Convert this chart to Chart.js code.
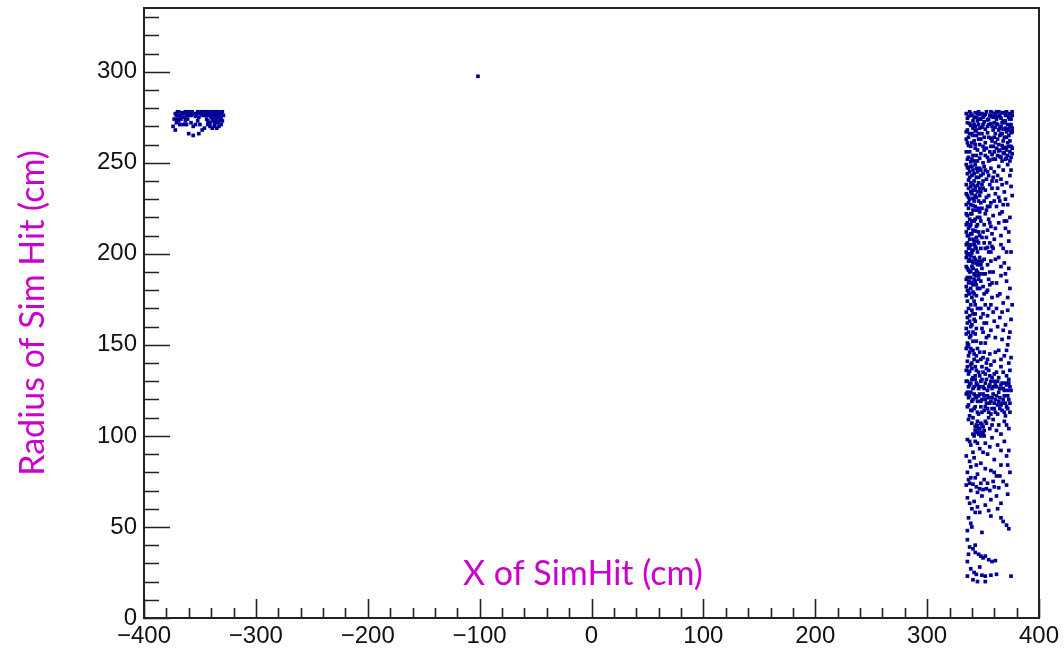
<!DOCTYPE html>
<html>
<head>
<meta charset="utf-8">
<script src="https://cdn.jsdelivr.net/npm/chart.js@4.4.1/dist/chart.umd.min.js"></script>
<style>
  html, body { margin: 0; padding: 0; background: #ffffff; }
  #wrap { width: 1064px; height: 650px; position: relative; }
</style>
</head>
<body>
<div id="wrap"><canvas id="c" width="1064" height="650"></canvas></div>
<script>
// Sim hits: [x (cm), radius (cm)]
const endcapTop = [
  [335,277],[337,275.5],[338,278],[340,276],[341,273],[343,277.5],[344,275],[346,278],[348,274],[349,277],
  [351,276],[353,278],[354,273.5],[356,276],[357,278],[359,275],[361,277],[362,274],[364,278],[365,276],
  [367,277.5],[368,273],[370,276],[371,278],[373,275],[374,277],[376,276],[358,277.5],[345,273],[363,275.5],
  [375,274],[336,272],[339,270.5],[342,271],[344,268],[347,269],[350,271],[352,268.5],[355,271],[358,270],
  [360,272],[363,271],[364,268],[366,270],[367,266],[369,272],[370,269],[371,267],[372,271],[373,268],
  [374,270],[375,266.5],[365,265],[369,264],[373,265],[376,269],[368,268.5],[335,267],[337,264],[340,266],
  [342,262],[344,265],[336,261],[339,259],[346,263],[349,266],[352,261],[355,264],[358,262],[361,266],
  [338,256],[341,254],[343,258],[336,252],[345,251],[348,255],[351,257],[354,253],[357,259],[360,256],
  [362,258],[363,254],[365,257],[366,253],[368,258],[369,255],[370,252],[371,257],[372,254],[373,259],
  [374,256],[375,253],[367,251],[364,260],[339,250.5],[342,251],[350,250],[356,251.5],[359,252],[347,276.5],
  [336,274.5],[339,277],[342,275],[345,277],[347,274],[350,275],[352,276.5],[355,274],[357,275.5],[360,276],
  [362,278],[366,274.5],[369,277.5],[372,276],[374,274],[376,278],[338,271.5],[341,269],[343,270],[346,271],
  [349,269.5],[351,272.5],[354,270],[357,271.5],[359,268],[361,269.5],[362,271.5],[365,269],[367,272],[370,273],
  [372,268.5],[375,271],[376,267],[336,268],[338,266],[341,265],[343,267.5],[346,266],[348,263],[351,264],
  [354,266.5],[357,263.5],[360,264],[363,263],[366,266],[368,262],[371,264],[374,262],[335,263],[337,259.5],
  [340,261],[343,260],[345,257],[347,260],[350,259],[353,258],[356,256],[359,259],[361,261],[364,256.5],
  [367,259.5],[370,258.5],[372,261],[375,259],[376,255],[335,256],[337,253],[340,252],[344,254],[347,252.5],
  [352,254],[355,251],[358,254.5],[361,252],[365,253.5],[368,255.5],[371,252.5],[374,251],[376,258]
];
const endcapUpper = [
  [335,249],[337,247],[339,248],[341,246],[343,249],[345,245],[347,247],[336,244],[338,242],[340,243],
  [342,240],[344,242],[346,239],[348,243],[335,238],[337,236],[339,239],[341,235],[343,237],[345,234],
  [349,238],[336,232],[338,230],[340,233],[342,229],[344,231],[347,232],[335,227],[337,225],[339,227],
  [341,224],[343,226],[346,225],[348,228],[336,221],[338,219],[340,222],[342,218],[345,220],[347,223],
  [335,216],[337,214],[339,216],[341,213],[344,215],[346,212],[336,210],[338,208],[340,211],[342,207],
  [344,209],[347,210],[335,205],[337,203],[339,205],[341,202],[343,204],[345,201],[348,203],[336,200],
  [340,200.5],[351,248],[354,245],[357,247],[353,241],[356,238],[359,242],[352,235],[355,232],[358,236],
  [361,233],[351,229],[354,226],[357,228],[352,222],[355,219],[359,221],[351,216],[354,213],[357,215],
  [353,209],[356,206],[360,208],[352,203],[355,201],[358,204],[350,244],[350,212],[364,248],[368,246],
  [372,249],[366,241],[371,239],[374,243],[363,236],[369,234],[365,229],[372,227],[367,223],[374,220],
  [364,217],[370,214],[366,210],[373,207],[368,203],[375,201],[362,240],[362,226],[376,232],[371,218],
  [336,247.5],[338,245],[340,248],[342,244],[344,247],[346,242],[348,246],[350,240],[337,240.5],[339,237],
  [341,238],[343,235],[345,237.5],[347,236],[335,233],[337,231],[339,234],[341,230.5],[343,232],[346,229],
  [348,234],[335,222],[337,228],[339,222],[341,226.5],[344,224],[347,220],[349,225],[336,217],[338,215],
  [340,218],[343,219],[345,216],[348,218],[335,212],[337,210],[339,211],[341,208],[343,212.5],[345,207],
  [336,206],[338,204],[340,202],[342,205],[344,203],[346,206],[335,201],[337,200],[349,209],[350,236],
  [352,246],[355,243],[358,240],[353,231],[356,226],[353,224],[356,217],[358,211],[351,206],[354,203.5],
  [357,201],[360,245],[360,229],[361,214],[359,203],[363,243],[367,238],[370,230],[365,222],[369,218],
  [373,212],[366,205],[371,201],[375,237],[364,231],[368,227],[375,246]
];
const endcapMid = [
  [335,198],[337,196],[339,199],[341,195],[343,197],[345,194],[347,198],[336,192],[338,190],[340,193],
  [342,189],[344,191],[346,188],[349,192],[335,186],[337,184],[339,187],[341,183],[343,185],[346,186],
  [336,180],[338,178],[341,179],[344,177],[336,174],[339,172],[342,174],[335,168],[338,166],[341,167],
  [345,170],[336,162],[339,160],[343,163],[335,156],[338,154],[341,157],[344,152],[337,150],[351,197],
  [354,194],[357,196],[352,189],[355,186],[350,182],[353,179],[356,183],[349,175],[352,172],[355,170],
  [348,165],[351,162],[354,166],[350,157],[353,154],[357,158],[348,151],[359,190],[358,176],[360,163],
  [364,198],[369,195],[373,192],[366,188],[371,185],[374,181],[363,177],[368,173],[372,169],[365,165],
  [370,161],[374,157],[367,153],[372,150],[362,184],[376,172],[375,164],[347,181],[344,159],[361,154],
  [336,199.5],[338,197],[340,196],[342,198],[344,195],[346,196],[348,194],[335,193],[337,191],[339,190.5],
  [341,192],[343,188],[345,190],[347,189],[336,187],[338,185],[340,184],[342,186],[344,183],[345,181],
  [335,182],[337,179],[339,181],[340,176],[342,178],[343,172],[335,177],[337,170],[340,169],[343,167],
  [336,165],[338,163],[340,161],[342,164],[335,159],[337,157],[339,155],[341,152],[343,156],[336,151],
  [349,196],[350,189],[348,185],[351,178],[354,180],[348,170],[350,167],[353,162],[349,159],[352,151],
  [355,155],[356,190],[358,184],[357,172],[359,168],[361,197],[362,170],[366,193],[370,189],[365,178],
  [372,176],[367,168],[368,158],[373,154],[363,160]
];
const endcapLower = [
  [335,148],[338,146],[341,147],[344,144],[347,146],[336,141],[339,139],[342,142],[350,143],[353,140],
  [356,145],[360,141],[364,147],[369,144],[373,140],[335,136],[337,134],[340,137],[343,133],[346,135],
  [349,138],[352,134],[355,136],[358,132],[362,135],[366,138],[371,133],[374,136],[336,130],[338,128],
  [340,131],[342,127],[344,129],[346,126],[348,130],[350,127],[352,129],[354,125],[356,128],[358,126],
  [360,130],[362,127],[364,124],[366,128],[368,126],[370,129],[372,125],[374,127],[335,123],[337,121],
  [339,124],[341,120],[343,122],[345,119],[347,123],[349,120],[351,122],[353,118],[355,121],[357,119],
  [359,123],[361,120],[363,117],[365,121],[367,118],[369,122],[371,116],[373,120],[336,116],[339,114],
  [342,115],[345,113],[348,116],[351,114],[354,115],[357,112],[360,115],[363,112],[367,114],[370,111],
  [374,113],[337,109],[340,107],[343,105],[345,108],[347,104],[349,106],[351,103],[346,101],[348,100],
  [350,102],[344,102],[353,107],[356,104],[359,109],[364,106],[369,108],[373,104],[366,101],[341,101],
  [336,149],[339,148],[342,145],[345,148],[348,142],[337,144],[340,140],[343,138],[345,141],[351,146],
  [354,142],[357,139],[361,146],[366,142],[371,147],[375,143],[336,138],[338,135.5],[341,132],[344,136],
  [347,133],[350,135],[353,137],[356,133],[360,134],[364,132],[368,135],[373,131],[335,130],[337,127],
  [339,129],[341,126],[343,131],[345,128],[347,127],[349,131],[351,126],[353,131],[355,127],[357,130],
  [359,127],[361,128],[363,130],[365,126],[367,129],[369,125],[371,128],[373,129],[375,125],[336,124],
  [338,122],[340,119],[342,123],[344,121],[346,122],[348,119],[350,123],[352,120],[354,122],[356,118],
  [358,121],[360,118],[362,122],[364,119],[366,117],[368,120],[370,118],[372,122],[374,118],[337,117],
  [340,114],[343,116],[346,112],[349,113],[352,116],[355,113],[358,115],[361,113],[365,115],[369,113],
  [372,115],[338,111],[341,110],[344,106],[346,104],[348,107],[350,105],[352,108],[343,103],[345,105.5],
  [347,102],[349,101],[351,100],[342,100],[355,110],[358,106],[362,103],[371,106]
];
const endcapLow = [
  [336,98],[339,95],[343,97],[347,93],[352,96],[358,99],[363,95],[369,97],[373,92],[335,89],
  [338,86],[342,88],[348,85],[354,90],[360,87],[366,84],[371,89],[336,80],[339,77],[345,79],
  [351,76],[357,81],[362,78],[368,75],[374,80],[335,73],[338,74],[341,73.5],[344,72],[347,71],
  [350,70.5],[353,71],[356,70],[360,72],[364,71.5],[349,67],[336,66],[342,64],[357,65],[366,63],
  [372,68],[340,60],[343,58],[345,61],[355,59],[363,60],[337,55],[339,52],[366,55],[368,53],
  [371,51],[336,48],[373,49],[336,43],[338,39],[341,38],[343,36],[346,35],[348,34],[350,33],
  [352,34],[355,32],[358,31],[361,31.5],[336,31],[339,27],[342,25],[344,24],[336,23],[349,23.5],
  [352,23],[357,23.5],[375,23],[345,20],[352,20],
  [338,97],[345,96],[341,91],[350,91],[356,94],[366,92],[339,83],[344,84],[352,82],[360,80],
  [372,84],[337,76],[343,77],[348,74],[354,74],[359,75],[365,78],[371,73],[339,70],[345,69],
  [362,67],[338,63],[352,62],[347,58],[357,56],[340,50],[349,47],[343,40],[337,35],[347,28],
  [362,24],[341,21]
];
const barrelEdge = [
  [-372,277],[-370,278],[-368,276],[-366,277.5],[-364,275],[-362,277],[-360,278],[-358,276],[-356,277],[-354,275.5],
  [-352,278],[-350,277],[-348,276],[-346,278],[-344,277],[-342,276],[-340,278],[-338,277],[-336,276],[-334,278],
  [-332,277],[-330,278],[-329,276],[-344,274],[-342,272],[-340,275],[-338,273],[-336,274],[-334,272],[-332,275],
  [-330,273],[-341,270],[-337,271],[-335,269],[-333,270],[-339,269],[-331,271],[-373,274],[-371,272],[-369,273],
  [-367,274],[-374,270],[-372,268],[-365,271],[-363,273],[-358,272],[-356,270],[-352,273],[-350,271],[-348,268],
  [-360,266],[-356,265],[-351,266],[-346,269],[-361,274],[-354,271],
  [-371,276],[-369,278],[-367,275.5],[-365,277],[-363,278],[-361,276],[-359,277],[-357,278],[-355,276.5],[-353,277],
  [-351,275],[-349,278],[-347,277],[-345,276],[-343,278],[-341,277],[-339,276],[-337,278],[-335,277],[-333,276],
  [-331,278],[-343,273],[-339,274],[-335,275],[-331,274],[-337,270],[-333,273],[-341,272],[-336,272],[-343,271],
  [-362,271],[-368,271],[-370,274]
];
const isolated = [[-101.5, 297.5]];

const xTicks = [-400, -300, -200, -100, 0, 100, 200, 300, 400];
const yTicks = [0, 50, 100, 150, 200, 250, 300];
const xTitle = 'X of SimHit (cm)';
const yTitle = 'Radius of Sim Hit (cm)';

const toPoints = arr => arr.map(([x, r]) => ({ x: x, y: r }));
const allHits = [].concat(endcapTop, endcapUpper, endcapMid, endcapLower, endcapLow, barrelEdge, isolated);

const MARKER = '#000096';
const TITLE_COLOR = '#cc00cc';
const AXIS_COLOR = '#222222';

// ROOT-style frame with inward major/minor ticks and in-plot axis titles
const frameAndTicks = {
  id: 'frameAndTicks',
  afterDraw(chart) {
    const { ctx, chartArea: a, scales } = chart;
    const xs = scales.x, ys = scales.y;
    ctx.save();
    ctx.strokeStyle = AXIS_COLOR;
    ctx.lineWidth = 1.6;
    ctx.beginPath();
    for (let v = xs.min; v <= xs.max + 1e-6; v += 20) {
      const px = Math.round(xs.getPixelForValue(v)) + 0.5;
      const len = (v % 100 === 0) ? 19 : 10;
      ctx.moveTo(px, a.bottom);
      ctx.lineTo(px, a.bottom - len);
    }
    for (let v = 0; v <= ys.max + 1e-6; v += 10) {
      const py = Math.round(ys.getPixelForValue(v)) + 0.5;
      const len = (v % 50 === 0) ? 26 : 15;
      ctx.moveTo(a.left, py);
      ctx.lineTo(a.left + len, py);
    }
    ctx.stroke();
    ctx.lineWidth = 2;
    ctx.strokeRect(a.left, a.top, a.right - a.left, a.bottom - a.top);

    ctx.fillStyle = TITLE_COLOR;
    ctx.textAlign = 'center';
    ctx.textBaseline = 'middle';
    ctx.font = '34px Lato, "Open Sans", sans-serif';
    ctx.fillText(xTitle, 583, 574);
    ctx.translate(33, 313);
    ctx.rotate(-Math.PI / 2);
    ctx.fillText(yTitle, 0, 0);
    ctx.restore();
  }
};

new Chart(document.getElementById('c'), {
  type: 'scatter',
  data: {
    datasets: [{
      data: toPoints(allHits),
      backgroundColor: MARKER,
      borderWidth: 0,
      pointStyle: 'rect',
      pointRadius: 2.6,
      pointHoverRadius: 2.6
    }]
  },
  options: {
    responsive: false,
    animation: false,
    events: [],
    layout: { padding: { top: 8, right: 25, left: 0, bottom: 0 } },
    plugins: { legend: { display: false }, tooltip: { enabled: false } },
    scales: {
      x: {
        type: 'linear',
        min: -400, max: 400,
        afterBuildTicks: s => { s.ticks = xTicks.map(v => ({ value: v })); },
        afterFit: s => { s.height = 32; s.paddingLeft = 0; s.paddingRight = 0; },
        grid: { display: false, drawTicks: false },
        border: { display: false },
        ticks: {
          autoSkip: false, maxRotation: 0, padding: 4,
          color: '#111111',
          font: { family: '"Liberation Sans", Arial, sans-serif', size: 24 },
          callback: v => String(v).replace('-', '\u2212')
        }
      },
      y: {
        type: 'linear',
        min: 0, max: 335,
        afterBuildTicks: s => { s.ticks = yTicks.map(v => ({ value: v })); },
        afterFit: s => { s.width = 144; s.paddingTop = 0; s.paddingBottom = 0; },
        grid: { display: false, drawTicks: false },
        border: { display: false },
        ticks: {
          autoSkip: false, padding: 7,
          color: '#111111',
          font: { family: '"Liberation Sans", Arial, sans-serif', size: 24 }
        }
      }
    }
  },
  plugins: [frameAndTicks]
});
</script>
</body>
</html>
